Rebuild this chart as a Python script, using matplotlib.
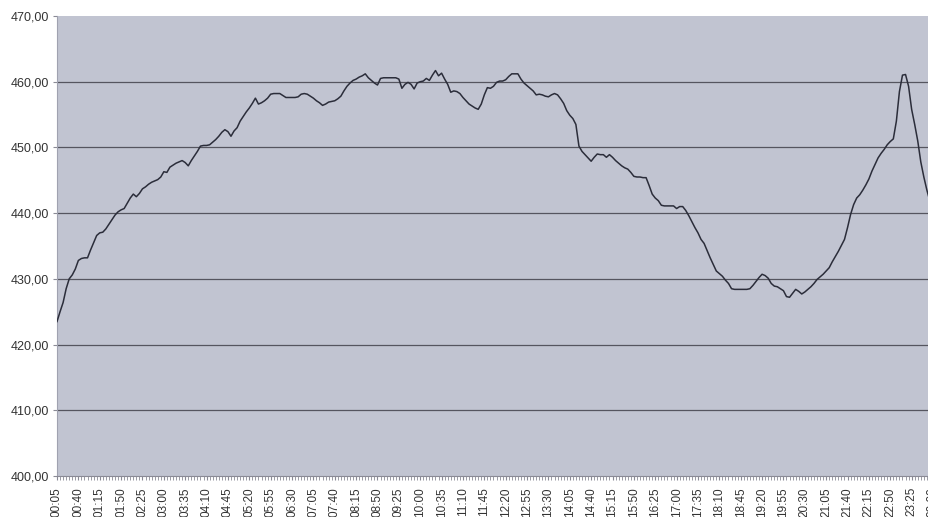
import matplotlib
matplotlib.use('Agg')
import matplotlib.pyplot as plt

# 5-minute readings, 00:05 .. 00:00
values = [
    423.5, 425.0, 426.4, 428.5, 430.0, 430.6, 431.5, 432.8, 433.1, 433.2,
    433.2, 434.4, 435.5, 436.6, 437.0, 437.1, 437.6, 438.3, 439.0, 439.7,
    440.2, 440.5, 440.7, 441.5, 442.3, 442.9, 442.5, 443.0, 443.7, 444.0,
    444.4, 444.7, 444.9, 445.1, 445.5, 446.3, 446.2, 447.0, 447.3, 447.6,
    447.8, 448.0, 447.7, 447.2, 448.0, 448.7, 449.4, 450.2, 450.3, 450.3,
    450.4, 450.8, 451.2, 451.7, 452.3, 452.7, 452.4, 451.7, 452.5, 453.0,
    454.0, 454.7, 455.4, 456.0, 456.7, 457.5, 456.6, 456.8, 457.1, 457.5,
    458.1, 458.2, 458.2, 458.2, 457.9, 457.6, 457.6, 457.6, 457.6, 457.7,
    458.1, 458.2, 458.1, 457.8, 457.5, 457.1, 456.8, 456.4, 456.6, 456.9,
    457.0, 457.1, 457.4, 457.8, 458.6, 459.3, 459.8, 460.2, 460.4, 460.7,
    460.9, 461.2, 460.6, 460.2, 459.8, 459.5, 460.5, 460.6, 460.6, 460.6,
    460.6, 460.6, 460.4, 459.0, 459.6, 459.9, 459.6, 458.9, 459.8, 460.0,
    460.1, 460.5, 460.2, 461.0, 461.7, 460.9, 461.3, 460.4, 459.6, 458.4,
    458.6, 458.5, 458.2, 457.6, 457.1, 456.6, 456.3, 456.0, 455.8, 456.6,
    458.0, 459.1, 459.0, 459.3, 459.9, 460.1, 460.1, 460.3, 460.8, 461.2,
    461.2, 461.2, 460.4, 459.8, 459.4, 459.0, 458.6, 458.0, 458.1, 458.0,
    457.8, 457.7, 458.0, 458.2, 458.0, 457.4, 456.7, 455.6, 454.9, 454.4,
    453.5, 450.2, 449.4, 448.9, 448.4, 447.9, 448.5, 449.0, 448.9, 448.9,
    448.5, 448.9, 448.5, 448.0, 447.6, 447.2, 446.9, 446.7, 446.2, 445.6,
    445.5, 445.5, 445.4, 445.4, 444.2, 442.9, 442.3, 441.9, 441.2, 441.1,
    441.1, 441.1, 441.1, 440.7, 441.0, 441.0, 440.4, 439.6, 438.7, 437.8,
    437.0, 436.0, 435.4, 434.3, 433.2, 432.2, 431.2, 430.8, 430.4, 429.8,
    429.3, 428.5, 428.4, 428.4, 428.4, 428.4, 428.4, 428.5, 429.0, 429.6,
    430.2, 430.7, 430.5, 430.1, 429.3, 428.9, 428.8, 428.5, 428.2, 427.3,
    427.2, 427.8, 428.4, 428.1, 427.7, 428.0, 428.4, 428.8, 429.3, 429.9,
    430.3, 430.7, 431.2, 431.7, 432.6, 433.4, 434.2, 435.1, 436.0, 437.8,
    439.8, 441.3, 442.3, 442.8, 443.5, 444.3, 445.2, 446.4, 447.4, 448.4,
    449.1, 449.7, 450.4, 450.9, 451.3, 454.0, 458.5, 461.0, 461.1, 459.3,
    455.8, 453.5, 451.0, 447.8, 445.5, 443.5, 441.8, 440.5,
]

# one label every 35 minutes
tick_labels = [
    '00:05', '00:40', '01:15', '01:50', '02:25', '03:00', '03:35', '04:10',
    '04:45', '05:20', '05:55', '06:30', '07:05', '07:40', '08:15', '08:50',
    '09:25', '10:00', '10:35', '11:10', '11:45', '12:20', '12:55', '13:30',
    '14:05', '14:40', '15:15', '15:50', '16:25', '17:00', '17:35', '18:10',
    '18:45', '19:20', '19:55', '20:30', '21:05', '21:40', '22:15', '22:50',
    '23:25', '00:00',
]
y_ticks = [400, 410, 420, 430, 440, 450, 460, 470]

plt.rcParams['font.family'] = ['Liberation Sans', 'DejaVu Sans']

fig = plt.figure(figsize=(9.29, 5.17), dpi=100)
ax = fig.add_axes([57 / 929, 41 / 517, 876 / 929, 460 / 517])
ax.set_facecolor('#c1c4d1')

x = list(range(len(values)))
ax.plot(x, values, color='#2b2d3a', lw=1.1, zorder=3)

ax.set_xlim(0, len(values) - 1)
ax.set_ylim(400, 470)

ax.set_yticks(y_ticks)
ax.set_yticklabels(['%d,00' % v for v in y_ticks], fontsize=9, color='#333333')
ax.yaxis.grid(True, color='#55555f', lw=0.9)
ax.get_ygridlines()[-1].set_visible(False)
ax.get_ygridlines()[0].set_visible(False)

major = list(range(0, len(values), 7))
ax.set_xticks(major)
ax.set_xticklabels(tick_labels, rotation=90, fontsize=8.5, color='#333333')
ax.set_xticks(x, minor=True)
ax.tick_params(axis='x', which='both', length=3, color='#8a8a95', pad=5)
ax.tick_params(axis='y', length=3, color='#8a8a95', pad=3)

for side in ['top', 'right']:
    ax.spines[side].set_visible(False)
ax.spines['left'].set_color('#a0a2b0')
ax.spines['bottom'].set_color('#8a8a95')
ax.spines['left'].set_linewidth(0.8)
ax.spines['bottom'].set_linewidth(0.8)

plt.savefig('out.png', dpi=100)
